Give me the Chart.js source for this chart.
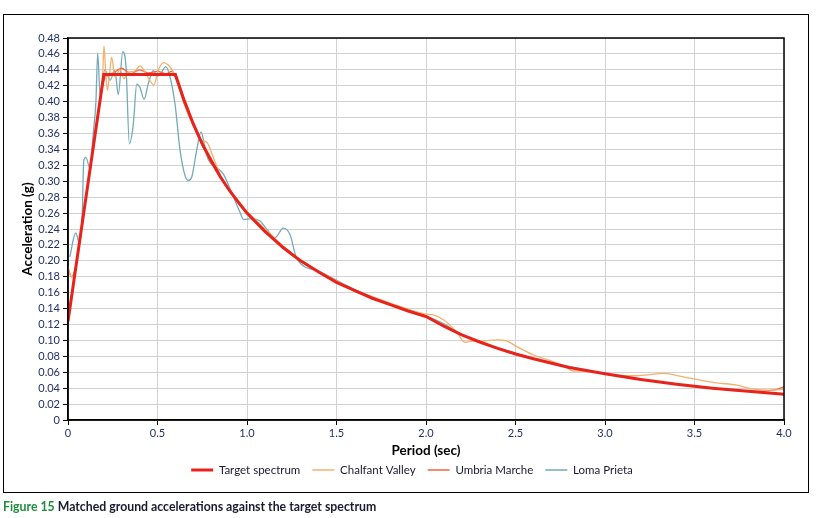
<!DOCTYPE html>
<html>
<head>
<meta charset="utf-8">
<script src="https://cdn.jsdelivr.net/npm/chart.js@4"></script>
<style>
  html, body { margin: 0; padding: 0; background: #fff; width: 818px; height: 518px; overflow: hidden; }
  #frame { position: absolute; left: 3px; top: 14px; width: 806px; height: 479px; border: 1.5px solid #000; box-sizing: border-box; }
  #wrap { position: absolute; left: 0; top: 0; width: 818px; height: 518px; }
  #caption { position: absolute; left: 3px; top: 499px; font-family: Lato, "Open Sans", sans-serif; font-weight: bold; font-size: 12.3px; color: #1a1a30; white-space: nowrap; }
  #caption span { color: #1f8f3a; }
</style>
</head>
<body>
<div id="frame"></div>
<div id="wrap"><canvas id="c" width="818" height="518"></canvas></div>
<div id="caption"><span>Figure 15</span> Matched ground accelerations against the target spectrum</div>
<script>
// ---- Data ----
const seriesNames = ["Target spectrum", "Chalfant Valley", "Umbria Marche", "Loma Prieta"];

const targetT = [0, 0.2, 0.6, 0.65, 0.7, 0.75, 0.8, 0.85, 0.9, 0.95, 1.0, 1.1, 1.2, 1.3, 1.4, 1.5, 1.6, 1.7, 1.8, 1.9, 2.0, 2.1, 2.2, 2.3, 2.4, 2.5, 2.6, 2.8, 3.0, 3.2, 3.4, 3.6, 3.8, 4.0];
const targetA = [0.124, 0.434, 0.434, 0.401, 0.372, 0.347, 0.326, 0.306, 0.289, 0.274, 0.260, 0.237, 0.217, 0.200, 0.186, 0.173, 0.163, 0.153, 0.145, 0.137, 0.130, 0.118, 0.107, 0.098, 0.090, 0.083, 0.077, 0.066, 0.058, 0.051, 0.045, 0.040, 0.036, 0.0325];

const chalfantT = [0, 0.015, 0.03, 0.045, 0.055, 0.07, 0.1, 0.14, 0.17, 0.185, 0.195, 0.201, 0.21, 0.22, 0.232, 0.244, 0.262, 0.29, 0.313, 0.337, 0.37, 0.402, 0.44, 0.48, 0.505, 0.536, 0.56, 0.589, 0.62, 0.663, 0.709, 0.74, 0.775, 0.812, 0.85, 0.9, 0.95, 1.0, 1.054, 1.1, 1.2, 1.3, 1.4, 1.5, 1.6, 1.7, 1.8, 1.9, 2.0, 2.04, 2.097, 2.17, 2.218, 2.26, 2.3, 2.35, 2.395, 2.45, 2.507, 2.6, 2.711, 2.78, 2.823, 2.898, 3.0, 3.08, 3.158, 3.25, 3.326, 3.437, 3.531, 3.624, 3.736, 3.829, 3.94, 4.0];
const chalfantA = [0.193, 0.181, 0.180, 0.190, 0.212, 0.231, 0.280, 0.342, 0.385, 0.410, 0.440, 0.470, 0.440, 0.414, 0.435, 0.456, 0.431, 0.440, 0.429, 0.437, 0.438, 0.445, 0.433, 0.421, 0.440, 0.449, 0.446, 0.437, 0.420, 0.389, 0.366, 0.352, 0.349, 0.330, 0.308, 0.290, 0.276, 0.262, 0.250, 0.240, 0.219, 0.201, 0.187, 0.175, 0.164, 0.155, 0.147, 0.139, 0.133, 0.132, 0.126, 0.111, 0.0977, 0.099, 0.099, 0.100, 0.1006, 0.0994, 0.0922, 0.0817, 0.0733, 0.067, 0.0615, 0.0615, 0.058, 0.056, 0.0556, 0.057, 0.0585, 0.0543, 0.050, 0.0467, 0.0438, 0.0388, 0.0375, 0.0385];

const umbriaT = [0, 0.02, 0.04, 0.06, 0.1, 0.14, 0.17, 0.19, 0.21, 0.25, 0.3, 0.35, 0.4, 0.45, 0.5, 0.55, 0.58, 0.6, 0.65, 0.7, 0.75, 0.8, 0.85, 0.9, 0.95, 1.0, 1.1, 1.2, 1.3, 1.4, 1.5, 1.6, 1.7, 1.8, 1.9, 2.0, 2.1, 2.2, 2.3, 2.4, 2.5, 2.6, 2.7, 2.8, 2.9, 3.0, 3.2, 3.4, 3.6, 3.8, 3.94, 4.0];
const umbriaA = [0.190, 0.180, 0.190, 0.215, 0.280, 0.340, 0.390, 0.415, 0.432, 0.436, 0.442, 0.435, 0.440, 0.436, 0.438, 0.435, 0.438, 0.430, 0.397, 0.370, 0.345, 0.323, 0.305, 0.288, 0.273, 0.259, 0.238, 0.216, 0.199, 0.187, 0.174, 0.162, 0.154, 0.146, 0.137, 0.131, 0.118, 0.107, 0.099, 0.090, 0.084, 0.077, 0.071, 0.066, 0.062, 0.058, 0.051, 0.045, 0.040, 0.036, 0.0375, 0.0417];

const lomaT = [0.01, 0.043, 0.065, 0.08, 0.088, 0.10, 0.123, 0.141, 0.156, 0.166, 0.18, 0.19, 0.205, 0.235, 0.262, 0.281, 0.306, 0.324, 0.343, 0.365, 0.384, 0.402, 0.425, 0.449, 0.477, 0.50, 0.52, 0.546, 0.57, 0.598, 0.626, 0.654, 0.672, 0.691, 0.719, 0.743, 0.765, 0.784, 0.831, 0.868, 0.914, 0.961, 0.98, 1.026, 1.073, 1.11, 1.156, 1.203, 1.24, 1.278, 1.4, 1.6, 1.8, 1.9, 2.0, 2.1, 2.2, 2.4, 2.6, 2.8, 3.0, 3.2, 3.4, 3.6, 3.8, 4.0];
const lomaA = [0.205, 0.235, 0.222, 0.262, 0.326, 0.330, 0.316, 0.360, 0.400, 0.461, 0.406, 0.420, 0.440, 0.427, 0.439, 0.409, 0.463, 0.444, 0.347, 0.372, 0.422, 0.418, 0.403, 0.423, 0.439, 0.432, 0.436, 0.444, 0.431, 0.397, 0.339, 0.307, 0.301, 0.305, 0.339, 0.362, 0.343, 0.327, 0.317, 0.309, 0.286, 0.261, 0.252, 0.253, 0.250, 0.240, 0.229, 0.241, 0.233, 0.203, 0.187, 0.164, 0.146, 0.139, 0.131, 0.121, 0.107, 0.091, 0.077, 0.067, 0.058, 0.051, 0.045, 0.040, 0.036, 0.033];

const xTickValues = [0, 0.5, 1.0, 1.5, 2.0, 2.5, 3.0, 3.5, 4.0];
const xTickLabels = ["0", "0.5", "1.0", "1.5", "2.0", "2.5", "3.0", "3.5", "4.0"];
const yTickLabels = ["0", "0.02", "0.04", "0.06", "0.08", "0.10", "0.12", "0.14", "0.16", "0.18", "0.20", "0.22", "0.24", "0.26", "0.28", "0.30", "0.32", "0.34", "0.36", "0.38", "0.40", "0.42", "0.44", "0.46", "0.48"];

const colors = ["#e8231c", "#f6b06a", "#f0663f", "#74aab9"];
const widths = [3, 1.3, 1.3, 1.3];

function pts(T, A) { return T.map((t, i) => ({ x: t, y: A[i] })); }
const seriesData = [pts(targetT, targetA), pts(chalfantT, chalfantA), pts(umbriaT, umbriaA), pts(lomaT, lomaA)];

const frameBox = {
  id: 'frameBox',
  afterLayout(chart) {
    // centre the legend a little to the right, as in the reference
    if (chart.legend) { chart.legend.left += 20; chart.legend.right += 20; }
  },
  afterDatasetsDraw(chart) {
    const a = chart.chartArea, ctx = chart.ctx;
    ctx.save();
    ctx.strokeStyle = '#000';
    ctx.lineWidth = 1.5;
    ctx.strokeRect(a.left, a.top, a.right - a.left, a.bottom - a.top);
    ctx.restore();
  }
};

const FONT = 'Lato, "Open Sans", sans-serif';
const tickColor = '#22306a';

new Chart(document.getElementById('c'), {
  type: 'line',
  data: {
    datasets: seriesNames.map((n, i) => ({
      label: n,
      data: seriesData[i],
      borderColor: colors[i],
      backgroundColor: colors[i],
      borderWidth: widths[i],
      pointRadius: 0,
      fill: false,
      tension: 0,
      cubicInterpolationMode: i === 0 ? 'default' : 'monotone'
    }))
  },
  options: {
    responsive: false,
    devicePixelRatio: 1,
    animation: false,
    layout: { padding: { left: 0, right: 34, top: 38, bottom: 32.25 } },
    plugins: {
      legend: {
        position: 'bottom',
        labels: {
          usePointStyle: true,
          pointStyle: 'line',
          pointStyleWidth: 22,
          boxHeight: 11,
          padding: 12,
          color: '#1a1a30',
          font: { family: FONT, size: 11.5 }
        }
      },
      tooltip: { enabled: false }
    },
    scales: {
      x: {
        type: 'linear',
        min: 0, max: 4,
        afterBuildTicks(s) { s.ticks = xTickValues.map(v => ({ value: v })); },
        afterFit(s) { s.height = 32.25; },
        ticks: {
          color: tickColor,
          font: { family: FONT, size: 11 },
          padding: 2,
          maxRotation: 0,
          autoSkip: false,
          callback(v) { const i = xTickValues.indexOf(v); return i >= 0 ? xTickLabels[i] : ''; }
        },
        grid: { color: '#d2d2d2', lineWidth: 1, tickColor: '#000', tickLength: 5 },
        border: { color: '#000', width: 1.5 },
        title: { display: true, text: 'Period (sec)', color: '#000', font: { family: FONT, size: 13.5, weight: 'bold' }, padding: { top: 0, bottom: -6.8 } }
      },
      y: {
        min: 0, max: 0.48,
        afterBuildTicks(s) { s.ticks = yTickLabels.map((l, i) => ({ value: i * 0.02 })); },
        afterFit(s) { s.width = 68; },
        ticks: {
          color: tickColor,
          font: { family: FONT, size: 11 },
          padding: 3,
          autoSkip: false,
          callback(v, i) { return yTickLabels[i]; }
        },
        grid: { color: '#d2d2d2', lineWidth: 1, tickColor: '#000', tickLength: 5 },
        border: { color: '#000', width: 1.5 },
        title: { display: true, text: 'Acceleration (g)', color: '#000', font: { family: FONT, size: 13.5, weight: 'bold' }, padding: { top: 20, bottom: 0 } }
      }
    }
  },
  plugins: [frameBox]
});
</script>
</body>
</html>
